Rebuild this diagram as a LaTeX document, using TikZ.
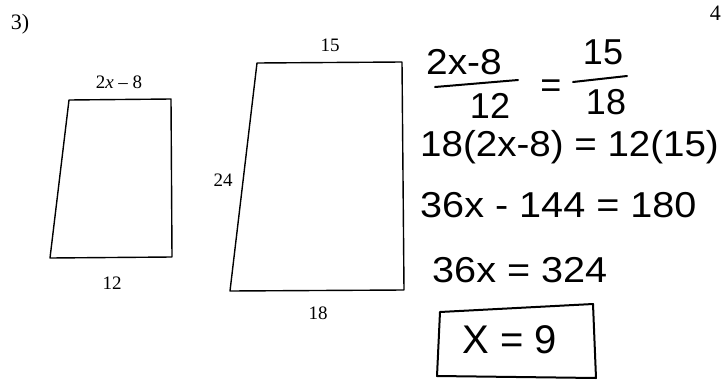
\documentclass[tikz,border=0pt]{standalone}
\usepackage{fontspec}
\setmainfont{Liberation Serif}
\newfontfamily\handfont{Liberation Sans}
\begin{document}
\begin{tikzpicture}[x=1pt,y=-1pt,
  printed/.style={font=\fontsize{19}{22}\selectfont, inner sep=0pt},
  hand/.style={font=\handfont\fontsize{36}{40}\selectfont, inner sep=0pt},
  shapeline/.style={line width=1.4pt, line join=round},
  penline/.style={line width=2pt, line cap=round, line join=round}]
\useasboundingbox (0,0) rectangle (723,383);
\fill[white] (0,0) rectangle (723,383);
% labels of problems
\node[printed, font=\fontsize{22}{26}\selectfont] (p3) at (20,24) {3)};
\node[printed, font=\fontsize{22}{26}\selectfont, anchor=east] (p4) at (721,13) {4};
% small trapezoid
\coordinate (a1) at (69,100);
\coordinate (a2) at (171,99);
\coordinate (a3) at (172,257);
\coordinate (a4) at (50,258);
\draw[shapeline] (a1) -- (a2) -- (a3) -- (a4) -- cycle;
\node[printed] (lt) at (119,82) {2\textit{x} – 8};
\node[printed] (lb) at (112,283) {12};
% large trapezoid
\coordinate (b1) at (257,63);
\coordinate (b2) at (402,62);
\coordinate (b3) at (404,290);
\coordinate (b4) at (230,291);
\draw[shapeline] (b1) -- (b2) -- (b3) -- (b4) -- cycle;
\node[printed] (rt) at (330,45) {15};
\node[printed] (rl) at (223,180) {24};
\node[printed] (rb) at (318,313) {18};
% handwritten work
\node[hand, xscale=1.08] (n1) at (464,62) {2x-8};
\coordinate (f1a) at (435,87);
\coordinate (f1b) at (518,80);
\draw[penline] (f1a) -- (f1b);
\node[hand] (d1) at (490,106) {12};
\node[hand] (eq1) at (551,89) {=};
\node[hand] (n2) at (603,52) {15};
\coordinate (f2a) at (573,82);
\coordinate (f2b) at (627,76);
\draw[penline] (f2a) -- (f2b);
\node[hand] (d2) at (606,102) {18};
\node[hand, anchor=west, xscale=1.07] (l2) at (420,147) {18(2x-8) = 12(15)};
\node[hand, anchor=west, xscale=1.1] (l3) at (420,205) {36x - 144 = 180};
\node[hand, anchor=west, xscale=1.1] (l4) at (432,270) {36x = 324};
\node[hand, font=\handfont\fontsize{40}{44}\selectfont] (ans) at (510,340) {X = 9};
\coordinate (k1) at (440,312);
\coordinate (k2) at (593,304);
\coordinate (k3) at (596,378);
\coordinate (k4) at (437,376);
\draw[penline] (k1) -- (k2) -- (k3) -- (k4) -- cycle;
\end{tikzpicture}
\end{document}
